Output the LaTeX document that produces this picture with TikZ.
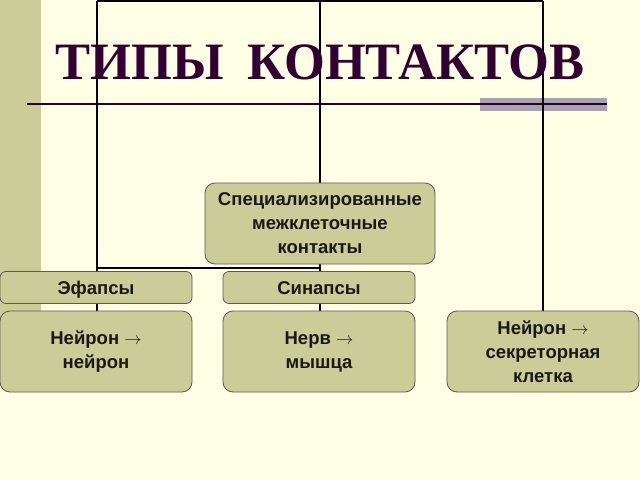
\documentclass[tikz,border=0pt]{standalone}
\usepackage{fontspec}
\setmainfont{Liberation Sans}
\newfontfamily\titlefont{Liberation Serif}
\usetikzlibrary{backgrounds}
\definecolor{paper}{HTML}{FFFFE6}
\definecolor{khaki}{HTML}{CCCC99}
\definecolor{plum}{HTML}{330033}
\definecolor{barcol}{HTML}{A8A3B0}

\begin{document}
\begin{tikzpicture}[x=1pt,y=-1pt,
    box/.style={draw=black!65,fill=khaki,rounded corners=10pt,line width=0.8pt,
      align=center,inner sep=0pt,text=black!90,font=\bfseries\fontsize{18.5}{24}\selectfont},
    tag/.style={box,rounded corners=6pt,minimum width=192pt,minimum height=32pt,
      text height=13pt,text depth=0pt},
    leaf/.style={box,minimum width=192pt,minimum height=81pt},
    wire/.style={black,line width=1.2pt}]
    \useasboundingbox (0,0) rectangle (640,480);
    \node[box,minimum width=230pt,minimum height=81pt] (spec) at (320,223.5)
      {Специализированные\\межклеточные\\контакты};
    \node[tag] (efa) at (96,287.5) {Эфапсы};
    \node[tag] (syn) at (319,287.5) {Синапсы};
    \node[leaf] (nn) at (96,351.5) {Нейрон $\rightarrow$\\нейрон};
    \node[leaf] (nm) at (319,351.5) {Нерв $\rightarrow$\\мышца};
    \node[leaf] (ns) at (543,351.5) {Нейрон $\rightarrow$\\секреторная\\клетка};
    \node[font=\titlefont\bfseries\fontsize{52.5}{60}\selectfont,text=plum,anchor=base,inner sep=0pt] (title) at (320,79)
      {ТИПЫ\hspace{0.2em} КОНТАКТОВ};
    \coordinate (top1) at (97,1);
    \coordinate (top2) at (320,1);
    \coordinate (top3) at (543,1);
    \coordinate (fork) at (320,268);
    \coordinate (ruleL) at (27,104);
    \coordinate (ruleR) at (607,104);
    \begin{scope}[on background layer]
    \fill[paper] (0,0) rectangle (640,480);
    \fill[khaki] (0,0) rectangle (41,360);
    \fill[barcol] (480,98) rectangle (607,111);
    \draw[plum!80!black,line width=1.2pt] (ruleL) -- (ruleR);
    \draw[wire] (top1) -- (top3);
    \draw[wire] (top1) -- (top1 |- nn.north);
    \draw[wire] (top2) -- (spec.north);
    \draw[wire] (spec.south) -- (spec.south |- nm.north);
    \draw[wire] (fork -| top1) -- (fork);
    \draw[wire] (top3) -- (ns.north);
    \end{scope}
  \end{tikzpicture}
\end{document}
